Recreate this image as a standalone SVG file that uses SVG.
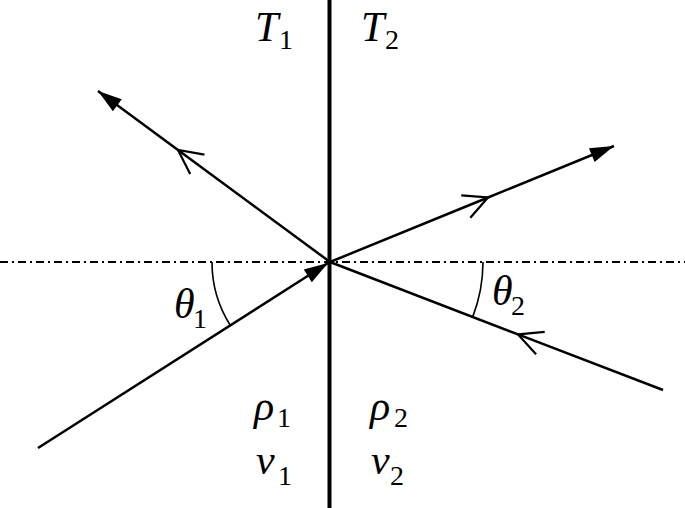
<svg xmlns="http://www.w3.org/2000/svg" width="685" height="508" viewBox="0 0 685 508">
<style>
.ln{stroke:#000;stroke-width:2.5;fill:none}
.t{font-family:"Liberation Serif","Times New Roman",serif;fill:#000}
.v{font-style:italic;font-size:42px}
.s{font-style:normal;font-size:28px}
</style>
<defs>
<marker id="head" markerUnits="userSpaceOnUse" markerWidth="30" markerHeight="20" viewBox="-26 -10 30 20" refX="0" refY="0" orient="auto">
<path d="M0,0 L-24,-7.5 L-24,7.5 Z" fill="#000"/>
</marker>
<marker id="chev" markerUnits="userSpaceOnUse" markerWidth="30" markerHeight="30" viewBox="-26 -15 30 30" refX="0" refY="0" orient="auto">
<path d="M-24,-12 L0,0 L-24,12" fill="none" stroke="#000" stroke-width="2.2"/>
</marker>
</defs>
<rect width="685" height="508" fill="#fff"/>
<g id="axes">
<line x1="0" y1="262" x2="685" y2="262" stroke="#000" stroke-width="2" stroke-dasharray="8 4 2 4"/>
<line x1="329.5" y1="0" x2="329.5" y2="508" stroke="#000" stroke-width="4"/>
</g>
<g id="connectors">
<path id="incident1" class="ln" d="M38,448 L328,263" marker-end="url(#head)"/>
<path id="reflected" class="ln" d="M330,262 L178,150 L98,91" marker-mid="url(#chev)" marker-end="url(#head)"/>
<path id="transmitted" class="ln" d="M330,262 L488,197.5 L614,146" marker-mid="url(#chev)" marker-end="url(#head)"/>
<path id="incident2" class="ln" d="M663,390 L518,334.4 L330,262" marker-mid="url(#chev)"/>
</g>
<g id="angles">
<path d="M212,262 A118,118 0 0 0 230.4,325.5" fill="none" stroke="#000" stroke-width="1.6"/>
<path d="M483,262 A153,153 0 0 1 472.7,316.9" fill="none" stroke="#000" stroke-width="1.6"/>
</g>
<g id="labels">
<g id="T1"><text class="t"><tspan class="v" x="255" y="41">T</tspan><tspan class="s" x="279" y="49">1</tspan></text></g>
<g id="T2"><text class="t"><tspan class="v" x="361" y="41">T</tspan><tspan class="s" x="385" y="49">2</tspan></text></g>
<g id="theta1"><text class="t"><tspan class="v" x="174" y="318">θ</tspan><tspan class="s" x="193" y="328">1</tspan></text></g>
<g id="theta2"><text class="t"><tspan class="v" x="492" y="305">θ</tspan><tspan class="s" x="511" y="315">2</tspan></text></g>
<g id="rho1"><text class="t"><tspan class="v" x="254" y="420">ρ</tspan><tspan class="s" x="277" y="427">1</tspan></text></g>
<g id="rho2"><text class="t"><tspan class="v" x="370" y="420">ρ</tspan><tspan class="s" x="394" y="427">2</tspan></text></g>
<g id="v1"><text class="t"><tspan class="v" x="256" y="474">v</tspan><tspan class="s" x="278" y="485">1</tspan></text></g>
<g id="v2"><text class="t"><tspan class="v" x="371" y="474">v</tspan><tspan class="s" x="390" y="485">2</tspan></text></g>
</g>
</svg>
